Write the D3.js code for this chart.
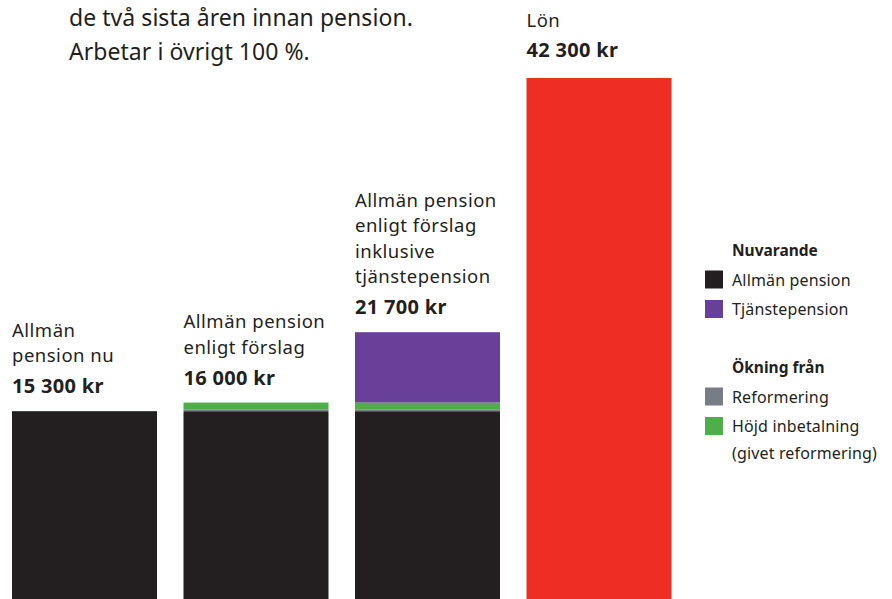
<!DOCTYPE html>
<html>
<head>
<meta charset="utf-8">
<script src="https://cdn.jsdelivr.net/npm/d3@7"></script>
<style>
  body { margin: 0; background: #fff; }
  svg { display: block; font-family: "Noto Sans", Roboto, sans-serif; }
</style>
</head>
<body>
<svg id="chart" width="892" height="599"></svg>
<script>
// chart data
const categories = ["nu", "forslag", "tjanste", "lon"];
const barLabels = [
  ["Allmän", "pension nu"],
  ["Allmän pension", "enligt förslag"],
  ["Allmän pension", "enligt förslag", "inklusive", "tjänstepension"],
  ["Lön"]
];
const totalLabels = ["15 300 kr", "16 000 kr", "21 700 kr", "42 300 kr"];
const allmanPension = [15300, 15300, 15300, 0];
const reformering = [0, 150, 150, 0];
const hojdInbetalning = [0, 550, 550, 0];
const tjanstepension = [0, 0, 5700, 0];
const lon = [0, 0, 0, 42300];

const titleLines = ["de två sista åren innan pension.", "Arbetar i övrigt 100 %."];

const legendGroups = [
  { title: "Nuvarande", items: [["Allmän pension", "allman"], ["Tjänstepension", "tjanst"]] },
  { title: "Ökning från", items: [["Reformering", "reform"], ["Höjd inbetalning|(givet reformering)", "hojd"]] }
];

const keys = ["allman", "reform", "hojd", "tjanst", "lon"];
const colors = {
  allman: "#231f20",
  reform: "#787c85",
  hojd: "#4fae4a",
  tjanst: "#68409a",
  lon: "#ee2e24"
};

const table = categories.map((c, i) => ({
  cat: c,
  allman: allmanPension[i],
  reform: reformering[i],
  hojd: hojdInbetalning[i],
  tjanst: tjanstepension[i],
  lon: lon[i]
}));

const svg = d3.select("#chart");
const textColor = "#231f20";

const x = d3.scaleBand()
  .domain(categories)
  .range([12, 671.5])
  .paddingInner(0.1545)
  .paddingOuter(0);

const y = d3.scaleLinear()
  .domain([0, 42300])
  .range([600, 78]);

const series = d3.stack().keys(keys)(table);

svg.append("g")
  .selectAll("g")
  .data(series)
  .join("g")
  .attr("fill", d => colors[d.key])
  .selectAll("rect")
  .data(d => d)
  .join("rect")
  .attr("x", d => x(d.data.cat))
  .attr("width", x.bandwidth())
  .attr("y", d => y(d[1]))
  .attr("height", d => y(d[0]) - y(d[1]));

// labels above bars
const totals = table.map(d => keys.reduce((s, k) => s + d[k], 0));

const labels = svg.append("g").attr("fill", textColor);
categories.forEach((c, i) => {
  const top = y(totals[i]);
  const valueY = top - (i === 3 ? 21 : 18);
  labels.append("text")
    .attr("x", x(c))
    .attr("y", valueY)
    .attr("font-size", 20)
    .attr("font-weight", 700)
    .attr("letter-spacing", 0.3)
    .text(totalLabels[i]);
  const lines = barLabels[i];
  const lineGap = i === 3 ? 30 : 31;
  lines.forEach((l, j) => {
    labels.append("text")
      .attr("x", x(c))
      .attr("y", valueY - lineGap - (lines.length - 1 - j) * 25.5)
      .attr("font-size", 18.5)
      .attr("letter-spacing", 0.5)
      .text(l);
  });
});

// title (top part of a text block, cut off)
svg.append("g")
  .selectAll("text")
  .data(titleLines)
  .join("text")
  .attr("x", 69)
  .attr("y", (d, i) => 26 + i * 34)
  .attr("font-size", 23)
  .attr("letter-spacing", 0.05)
  .attr("fill", textColor)
  .text(d => d);

// legend
const legend = svg.append("g").attr("transform", "translate(705,0)");
const groupTops = [256, 373];
legendGroups.forEach((g, gi) => {
  legend.append("text")
    .attr("x", 27)
    .attr("y", groupTops[gi])
    .attr("font-size", 15.5)
    .attr("font-weight", 700)
    .attr("fill", textColor)
    .text(g.title);
  g.items.forEach((it, ii) => {
    const base = groupTops[gi] + 29.5 + ii * 29.5;
    legend.append("rect")
      .attr("x", 0)
      .attr("y", base - 15)
      .attr("width", 18)
      .attr("height", 18)
      .attr("fill", colors[it[1]]);
    it[0].split("|").forEach((t, k) => {
      legend.append("text")
        .attr("x", 27)
        .attr("y", base + k * 27)
        .attr("font-size", 16)
        .attr("letter-spacing", 0.15)
        .attr("fill", textColor)
        .text(t);
    });
  });
});
</script>
</body>
</html>
